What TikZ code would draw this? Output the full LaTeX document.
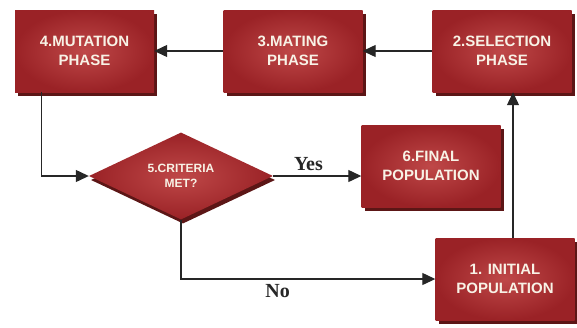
\documentclass[tikz,border=0pt]{standalone}
\usepackage{fontspec}
\setmainfont{Liberation Serif}
\newfontfamily\boxfont{Liberation Sans}
\usetikzlibrary{shapes.geometric,arrows.meta,shadows}
\definecolor{boxout}{HTML}{9A2226}
\definecolor{boxin}{HTML}{BF4848}
\definecolor{shadowc}{HTML}{5C1616}
\definecolor{txtc}{HTML}{F8F2E6}
\begin{document}
\begin{tikzpicture}[x=1pt,y=-1pt,
  stage/.style={rectangle, minimum width=139pt, minimum height=82pt, inner sep=0pt,
    inner color=boxin, outer color=boxout,
    drop shadow={shadow xshift=3pt, shadow yshift=-4pt, fill=shadowc, opacity=1},
    font=\boxfont\bfseries\fontsize{15}{19}\selectfont, text=txtc, align=center},
  decision/.style={diamond, aspect=2.1, minimum width=184pt, minimum height=87pt, inner sep=0pt,
    inner color=boxin, outer color=boxout,
    drop shadow={shadow xshift=2pt, shadow yshift=-4pt, fill=shadowc, opacity=1},
    font=\boxfont\bfseries\fontsize{12}{15}\selectfont, text=txtc, align=center},
  arr/.style={draw=black!85, line width=1.2pt, -{Triangle[length=13pt,width=12pt]}},
  lbl/.style={font=\bfseries\fontsize{20}{22}\selectfont, text=black!85}]
\useasboundingbox (0,0) rectangle (577,327);
\node[stage] (b4) at (84.5,51) {4.MUTATION\\PHASE};
\node[stage] (b3) at (293,51) {3.MATING\\PHASE};
\node[stage] (b2) at (502,51) {2.SELECTION\\PHASE};
\node[stage] (b6) at (431,166) {6.FINAL\\POPULATION};
\node[stage] (b1) at (505,279) {1. INITIAL\\POPULATION};
\node[decision] (d5) at (181,176) {5.CRITERIA\\MET?};
\draw[arr] (b3.west) -- (b4.east);
\draw[arr] (b2.west) -- (b3.east);
\draw[arr] ([xshift=27pt]b4.south west) |- (d5.west);
\draw[arr] (d5.east) -- node[above=1pt, lbl, pos=0.4] {Yes} (b6.west |- d5.east);
\draw[arr] (d5.south) |- node[below=1pt, lbl, pos=0.69] {No} (b1.west);
\draw[arr] ([xshift=8pt]b1.north) -- ([xshift=8pt]b1.north |- b2.south);
\end{tikzpicture}
\end{document}
